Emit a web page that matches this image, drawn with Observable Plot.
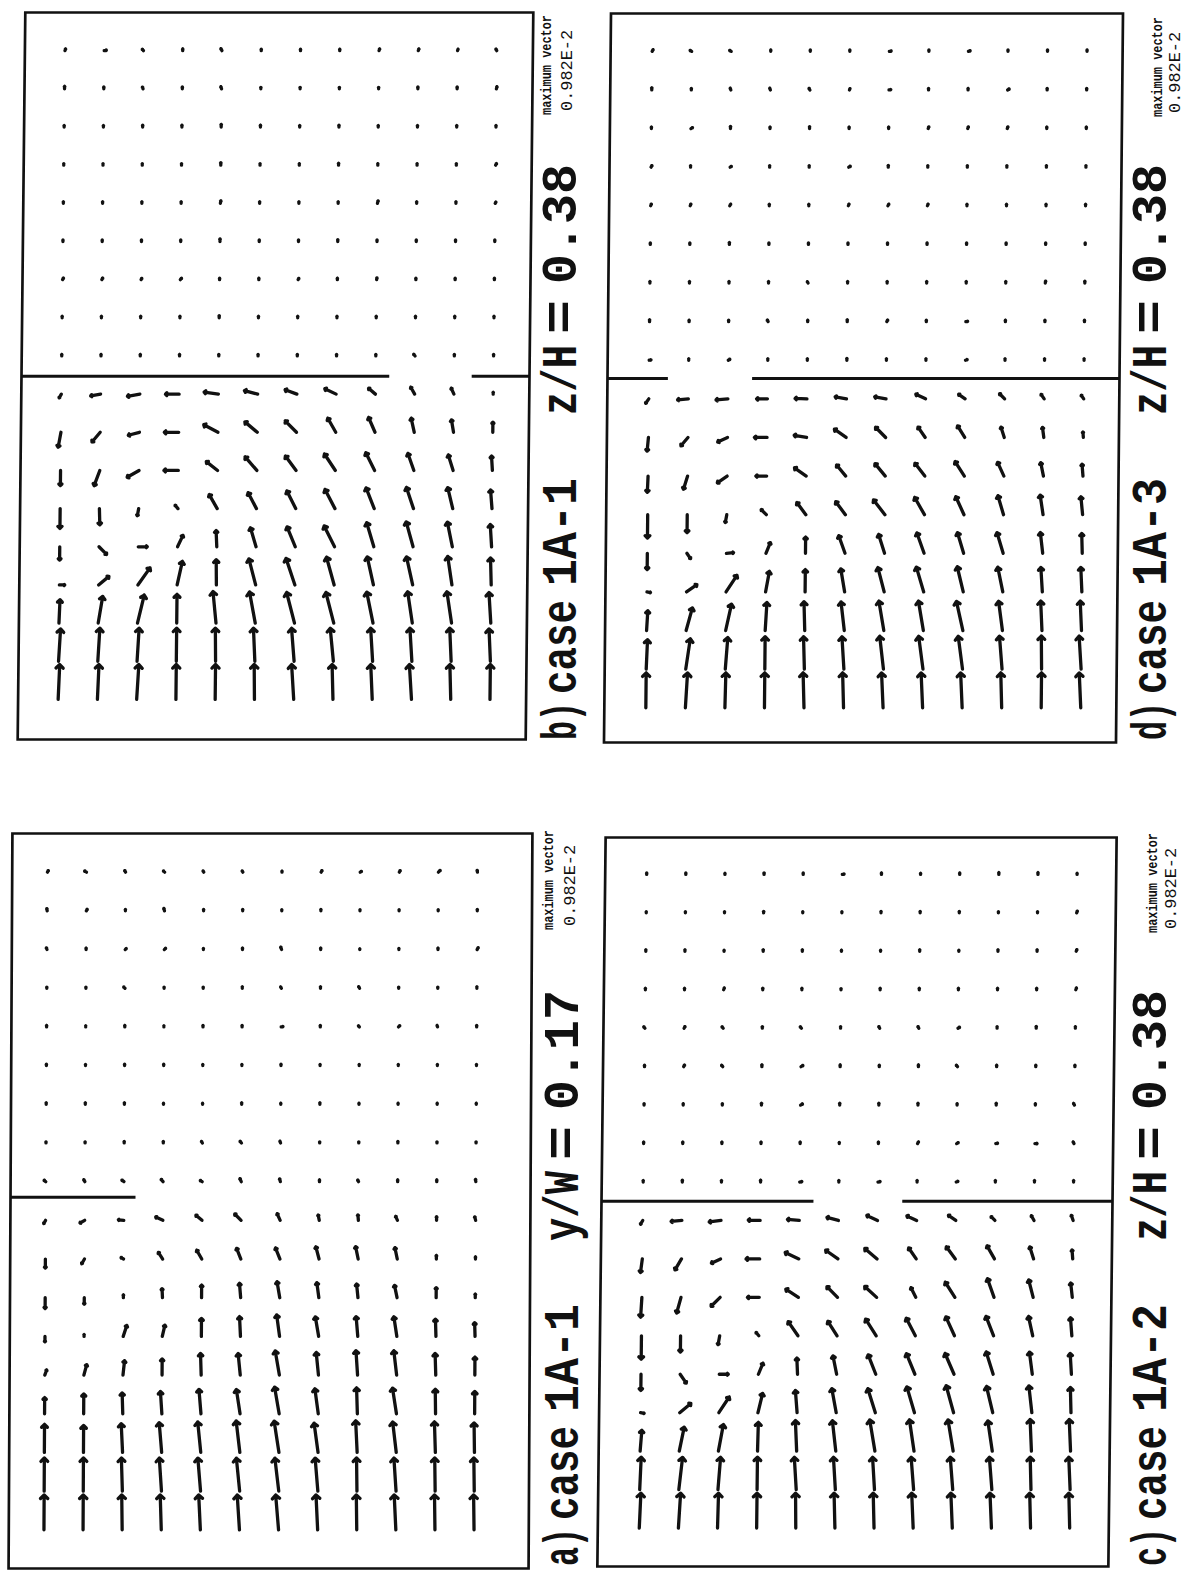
<!DOCTYPE html>
<html><head><meta charset="utf-8">
<script src="https://cdn.jsdelivr.net/npm/d3@7"></script>
<script src="https://cdn.jsdelivr.net/npm/@observablehq/plot@0.6"></script>
<style>
body{margin:0;background:#fff;}
#page{position:relative;width:1193px;height:1579px;overflow:hidden;background:#fff;}
#page svg{position:absolute;}
</style></head><body><div id="page"></div>
<script>
// ---- vector data: angle (deg, 0 = up the page, clockwise +) and relative magnitude (1 = maximum vector) ----
// rows 0..17 from top of each panel, 12 columns
const aAng = [
[30,-60,-30,-45,-30,-30,0,30,60,30,45,-10],
[-10,30,0,-15,0,0,0,0,0,0,0,0],
[-20,0,45,45,0,0,-20,0,0,0,0,30],
[0,0,-45,0,0,0,-30,0,-30,0,0,0],
[0,0,0,0,0,0,80,0,-40,45,-20,0],
[0,0,0,0,0,0,0,0,0,0,0,0],
[0,0,0,0,0,0,0,0,0,0,0,0],
[0,0,0,0,-30,-40,-20,0,0,0,0,0],
[-50,-30,-55,-40,-60,-25,-15,0,-30,0,0,-10],
[-150,-120,-85,-65,-50,-45,-25,-12,-5,-25,0,-15],
[180,-150,-60,-33,-30,-22,-22,-15,-12,-12,0,0],
[180,180,0,-3,0,-5,-10,-8,-6,-12,0,0],
[180,0,18,13,0,-3,-8,-10,-5,-9,-2,-2],
[20,15,6,0,-2,-6,-10,-6,-4,-7,-2,0],
[0,0,-2,-4,-5,-9,-10,-8,-2,-9,-1,0],
[0,0,-3,-5,-6,-7,-9,-8,-3,-7,-2,-1],
[0,0,-2,-4,-5,-6,-7,-5,-1,-4,-1,-1],
[0,0,-1,-2,-3,-4,-5,-3,-1,-3,-1,-1]];
const aLen = [
[0.05,0.06,0.05,0.05,0.04,0.04,0.03,0.05,0.04,0.05,0.07,0.05],
[0.06,0.05,0.04,0.07,0.04,0.04,0.03,0.04,0.03,0.03,0.03,0.04],
[0.05,0.04,0.04,0.05,0.03,0.04,0.07,0.04,0.02,0.03,0.04,0.06],
[0.03,0.03,0.05,0.03,0.03,0.04,0.04,0.04,0.05,0.03,0.03,0.04],
[0.04,0.03,0.04,0.03,0.04,0.04,0.05,0.04,0.04,0.05,0.04,0.04],
[0.04,0.03,0.04,0.04,0.03,0.03,0.04,0.03,0.03,0.03,0.03,0.03],
[0.04,0.04,0.04,0.03,0.03,0.04,0.03,0.04,0.03,0.03,0.03,0.03],
[0.03,0.03,0.04,0.04,0.05,0.06,0.05,0.03,0.03,0.04,0.03,0.03],
[0.06,0.06,0.07,0.08,0.06,0.09,0.08,0.05,0.05,0.05,0.05,0.06],
[0.1,0.15,0.15,0.22,0.22,0.25,0.2,0.15,0.15,0.12,0.1,0.1],
[0.25,0.15,0.08,0.22,0.28,0.32,0.33,0.35,0.35,0.32,0.1,0.06],
[0.3,0.18,0.08,0.25,0.35,0.4,0.45,0.42,0.38,0.35,0.28,0.1],
[0.15,0.05,0.32,0.32,0.5,0.55,0.6,0.55,0.55,0.55,0.48,0.38],
[0.15,0.3,0.4,0.45,0.6,0.6,0.68,0.63,0.68,0.68,0.6,0.5],
[0.45,0.55,0.58,0.62,0.68,0.68,0.75,0.7,0.72,0.72,0.68,0.62],
[0.78,0.75,0.8,0.83,0.85,0.88,0.88,0.82,0.88,0.85,0.85,0.82],
[0.92,0.92,0.92,0.92,0.92,0.92,0.92,0.92,0.92,0.92,0.92,0.92],
[0.97,0.97,0.97,0.97,0.97,0.97,0.97,0.97,0.97,0.97,0.97,0.97]];

const bAng = [
[20,80,-40,0,-30,0,0,0,20,20,20,-30],
[0,0,-20,0,-20,0,0,0,0,0,0,15],
[0,0,0,0,0,0,0,0,0,0,0,0],
[0,0,0,0,0,0,0,0,0,0,0,30],
[0,0,0,0,10,0,0,0,15,0,0,30],
[0,0,0,0,0,0,0,0,0,0,0,0],
[30,30,30,40,0,0,30,0,10,0,0,0],
[0,0,0,0,0,0,0,0,0,0,0,0],
[0,0,0,0,0,0,0,0,0,-40,0,0],
[-150,-100,-100,-90,-82,-75,-70,-65,-50,-30,-25,0],
[190,-140,-105,-90,-62,-50,-45,-30,-24,-13,-10,0],
[180,-160,-120,-90,-52,-41,-37,-34,-27,-20,-18,-4],
[180,178,190,-40,-30,-28,-27,-28,-22,-19,-14,-5],
[180,135,90,25,-3,-17,-23,-27,-17,-16,-12,-4],
[90,50,35,12,-1,-15,-19,-16,-13,-13,-9,-2],
[2,9,13,0,-6,-11,-15,-15,-12,-9,-9,-4],
[3,3,3,0,-1,-3,-5,-6,-4,-4,-3,-3],
[2,2,3,0,0,-1,-4,-2,-3,-4,-2,0]];
const bLen = [
[0.05,0.06,0.05,0.05,0.06,0.04,0.04,0.04,0.05,0.05,0.04,0.05],
[0.07,0.05,0.05,0.05,0.06,0.04,0.04,0.04,0.04,0.05,0.05,0.06],
[0.04,0.04,0.05,0.05,0.07,0.05,0.04,0.05,0.04,0.04,0.04,0.04],
[0.04,0.04,0.04,0.04,0.07,0.04,0.04,0.05,0.04,0.04,0.04,0.05],
[0.04,0.04,0.04,0.04,0.07,0.04,0.04,0.04,0.07,0.04,0.04,0.04],
[0.04,0.04,0.04,0.04,0.07,0.04,0.04,0.05,0.04,0.04,0.04,0.04],
[0.05,0.05,0.04,0.05,0.04,0.04,0.04,0.04,0.05,0.04,0.04,0.04],
[0.04,0.04,0.04,0.04,0.06,0.04,0.04,0.04,0.04,0.04,0.04,0.04],
[0.04,0.04,0.04,0.04,0.04,0.04,0.04,0.04,0.04,0.06,0.04,0.04],
[0.12,0.28,0.35,0.38,0.4,0.38,0.35,0.35,0.25,0.22,0.18,0.05],
[0.42,0.35,0.32,0.4,0.45,0.45,0.45,0.45,0.45,0.4,0.35,0.28],
[0.42,0.45,0.38,0.4,0.4,0.5,0.5,0.55,0.55,0.5,0.45,0.4],
[0.55,0.45,0.2,0.12,0.45,0.5,0.55,0.6,0.62,0.62,0.6,0.52],
[0.37,0.3,0.25,0.35,0.45,0.55,0.6,0.65,0.7,0.72,0.7,0.62],
[0.15,0.37,0.58,0.67,0.7,0.75,0.78,0.8,0.8,0.8,0.8,0.75],
[0.65,0.75,0.8,0.8,0.88,0.88,0.88,0.88,0.88,0.88,0.88,0.85],
[0.9,0.92,0.92,0.92,0.92,0.92,0.92,0.92,0.92,0.92,0.92,0.9],
[0.97,0.97,0.97,0.97,0.97,0.97,0.97,0.97,0.97,0.97,0.97,0.97]];

const cAng = [
[0,0,0,0,0,80,0,0,0,0,0,0],
[0,0,0,0,0,0,0,0,0,0,0,20],
[0,0,0,0,0,0,0,0,0,0,0,20],
[0,0,20,0,0,0,0,0,0,0,0,20],
[-40,30,-40,0,-40,0,-30,-30,60,0,0,0],
[0,30,-40,0,60,0,0,0,-40,0,0,0],
[0,0,0,0,60,0,0,0,0,0,0,-30],
[0,0,0,0,0,0,0,30,60,80,90,-30],
[0,0,0,0,80,0,80,0,70,0,0,0],
[-150,-95,-97,-88,-85,-75,-65,-65,-55,-45,-30,-20],
[187,-150,-115,-90,-65,-55,-50,-35,-37,-30,-18,-5],
[183,-165,-135,-90,-57,-45,-48,-27,-33,-20,-15,-7],
[180,180,190,-40,-35,-33,-33,-28,-25,-22,-13,-5],
[180,145,90,22,-3,-12,-22,-23,-24,-18,-8,-4],
[100,50,33,13,-5,-11,-18,-17,-16,-14,-7,-2],
[4,11,10,1,-3,-7,-10,-9,-10,-9,-3,-3],
[2,6,4,0,-4,-4,-4,-5,-5,-5,-2,-3],
[2,3,1,0,-1,-2,-2,-3,-3,-3,-2,-2]];
const cLen = [
[0.04,0.04,0.03,0.04,0.04,0.05,0.04,0.03,0.04,0.05,0.05,0.03],
[0.03,0.03,0.03,0.04,0.03,0.03,0.04,0.04,0.04,0.03,0.03,0.05],
[0.04,0.04,0.03,0.04,0.04,0.03,0.03,0.04,0.03,0.04,0.04,0.05],
[0.04,0.04,0.05,0.04,0.04,0.03,0.04,0.04,0.04,0.04,0.04,0.05],
[0.05,0.05,0.05,0.04,0.05,0.04,0.05,0.05,0.05,0.04,0.05,0.04],
[0.04,0.05,0.05,0.05,0.06,0.05,0.04,0.05,0.05,0.04,0.04,0.04],
[0.04,0.04,0.04,0.05,0.06,0.05,0.05,0.05,0.04,0.05,0.04,0.05],
[0.04,0.04,0.04,0.04,0.04,0.03,0.04,0.05,0.05,0.05,0.06,0.05],
[0.04,0.05,0.04,0.05,0.06,0.04,0.06,0.04,0.05,0.04,0.04,0.04],
[0.12,0.3,0.33,0.33,0.33,0.33,0.33,0.3,0.25,0.15,0.15,0.15],
[0.38,0.35,0.28,0.38,0.42,0.42,0.45,0.37,0.42,0.42,0.35,0.25],
[0.55,0.45,0.35,0.33,0.42,0.42,0.45,0.3,0.5,0.55,0.5,0.4],
[0.65,0.45,0.25,0.12,0.48,0.48,0.55,0.55,0.58,0.58,0.55,0.5],
[0.45,0.3,0.25,0.33,0.45,0.52,0.58,0.62,0.63,0.65,0.62,0.58],
[0.1,0.4,0.52,0.55,0.62,0.68,0.7,0.75,0.78,0.75,0.75,0.7],
[0.58,0.68,0.75,0.8,0.85,0.85,0.88,0.88,0.88,0.85,0.88,0.88],
[0.9,0.9,0.9,0.9,0.9,0.9,0.9,0.9,0.9,0.9,0.9,0.9],
[0.97,0.97,0.97,0.97,0.97,0.97,0.97,0.97,0.97,0.97,0.97,0.97]];

const dAng = [
[30,-60,-60,0,0,0,80,0,70,0,0,0],
[0,0,-20,-20,-30,20,80,0,0,60,0,0],
[0,60,0,0,0,0,0,20,20,20,0,0],
[30,0,60,0,0,60,0,0,0,0,0,0],
[20,20,30,0,0,20,30,20,0,0,0,0],
[0,0,0,0,0,0,0,0,0,0,0,0],
[0,0,0,0,-30,0,0,0,0,0,10,0],
[0,0,0,-30,0,0,30,0,80,0,0,0],
[80,0,60,0,0,0,0,0,70,0,0,0],
[-145,-95,-95,-90,-88,-80,-80,-65,-55,-45,-35,-35],
[185,-140,-115,-90,-80,-55,-45,-35,-32,-18,-8,-5],
[182,-163,-125,-90,-55,-40,-40,-38,-33,-25,-12,-5],
[180,180,190,-45,-37,-37,-38,-30,-25,-17,-9,-6],
[180,145,85,22,0,-20,-18,-20,-17,-17,-7,-2],
[100,55,33,10,0,-10,-15,-17,-14,-12,-4,-3],
[3,15,12,3,-2,-7,-10,-10,-13,-8,-3,-3],
[2,8,4,0,-2,-4,-7,-8,-8,-5,-1,-4],
[0,3,1,0,-2,-2,-3,-3,-3,-2,0,-3]];
const dLen = [
[0.05,0.05,0.05,0.04,0.04,0.04,0.05,0.04,0.05,0.04,0.04,0.04],
[0.06,0.04,0.05,0.05,0.05,0.04,0.05,0.04,0.04,0.05,0.04,0.04],
[0.04,0.05,0.06,0.04,0.05,0.04,0.04,0.05,0.05,0.05,0.04,0.04],
[0.05,0.04,0.04,0.04,0.04,0.05,0.05,0.04,0.04,0.04,0.04,0.04],
[0.05,0.05,0.05,0.04,0.04,0.05,0.05,0.05,0.04,0.04,0.04,0.04],
[0.04,0.04,0.05,0.04,0.04,0.04,0.04,0.04,0.04,0.04,0.04,0.04],
[0.04,0.04,0.04,0.04,0.04,0.04,0.04,0.04,0.04,0.04,0.05,0.05],
[0.05,0.04,0.04,0.05,0.04,0.05,0.05,0.04,0.05,0.04,0.04,0.04],
[0.05,0.04,0.05,0.04,0.04,0.05,0.04,0.04,0.05,0.04,0.04,0.04],
[0.15,0.3,0.33,0.3,0.33,0.32,0.32,0.3,0.22,0.2,0.15,0.12],
[0.38,0.3,0.3,0.35,0.35,0.4,0.4,0.35,0.38,0.3,0.28,0.15],
[0.45,0.38,0.33,0.3,0.4,0.4,0.45,0.45,0.48,0.42,0.38,0.33],
[0.65,0.5,0.22,0.2,0.42,0.45,0.52,0.55,0.55,0.55,0.55,0.5],
[0.45,0.18,0.2,0.32,0.45,0.52,0.55,0.6,0.6,0.6,0.58,0.55],
[0.1,0.35,0.55,0.58,0.62,0.65,0.7,0.72,0.72,0.7,0.68,0.68],
[0.55,0.65,0.75,0.78,0.8,0.8,0.83,0.83,0.83,0.82,0.82,0.82],
[0.82,0.85,0.88,0.9,0.9,0.9,0.92,0.92,0.92,0.92,0.92,0.92],
[0.97,0.97,0.97,0.97,0.97,0.97,0.97,0.97,0.97,0.97,0.97,0.97]];

// partition walls (grid units: y = row position, x1..x2 = column extent)
const aWalls = [{y:8.4, x1:-0.9, x2:2.31}];
const bWalls = [{y:8.53, x1:-1.02, x2:8.36}, {y:8.53, x1:10.46, x2:11.92}];
const cWalls = [{y:8.5, x1:-1.06, x2:4.37}, {y:8.5, x1:6.64, x2:12.0}];
const dWalls = [{y:8.47, x1:-1.05, x2:0.49}, {y:8.47, x1:2.62, x2:11.9}];

const panelNames = ["a","b","c","d"];
const caseLabels = ["case 1A-1","case 1A-1","case 1A-2","case 1A-3"];
const planeLabels = ["y/W = 0.17","z/H = 0.38","z/H = 0.38","z/H = 0.38"];
const maxVectorLabel = "0.982E-2";

// ---- layout ----
const layout = {
  a:{left:10, top:833, width:520, height:735, x:[-0.9,12.4], y:[-1,18], skew:-0.3},
  b:{left:21, top:12, width:508, height:727, x:[-1.02,11.92], y:[-1,18.05], skew:-0.6},
  c:{left:601, top:837, width:511, height:729, x:[-1.06,12.0], y:[-0.96,18.0], skew:-0.65},
  d:{left:607, top:13, width:512, height:729, x:[-1.05,11.9], y:[-0.98,17.9], skew:-0.55}
};
const sources = {a:[aAng,aLen,aWalls], b:[bAng,bLen,bWalls], c:[cAng,cLen,cWalls], d:[dAng,dLen,dWalls]};
const page = document.getElementById("page");
const M = 4;
for (const p of panelNames) {
  const [ang, len, walls] = sources[p];
  const L = layout[p];
  const data = [];
  for (let j = 0; j < ang.length; ++j) for (let i = 0; i < ang[j].length; ++i)
    data.push({col:i, row:j, angle:ang[j][i], mag:len[j][i]});
  const chart = Plot.plot({
    width: L.width + 2*M, height: L.height + 2*M,
    marginLeft:M, marginRight:M, marginTop:M, marginBottom:M,
    x:{domain:L.x, axis:null},
    y:{domain:L.y, reverse:true, axis:null},
    length:{domain:[0,1], range:[0,36]},
    marks:[
      Plot.frame({stroke:"#111", strokeWidth:2.7}),
      Plot.ruleY(walls, {y:"y", x1:"x1", x2:"x2", stroke:"#111", strokeWidth:3}),
      Plot.vector(data, {x:"col", y:"row", rotate:"angle", length:"mag", anchor:"start", r:1.8,
        stroke:"#111", strokeWidth:3.3, strokeLinecap:"round", strokeLinejoin:"round"})
    ]
  });
  chart.style.left = (L.left - M) + "px";
  chart.style.top = (L.top - M) + "px";
  chart.style.transform = `skewX(${L.skew}deg)`;
  chart.style.background = "transparent";
  page.appendChild(chart);
}

// ---- rotated labels ----
const labelPos = {
  a:{base:578, bottom:1566, small1:553, small2:575, sTop:830},
  b:{base:576, bottom:740, small1:551, small2:572, sTop:15},
  c:{base:1166, bottom:1566, small1:1157, small2:1176, sTop:833},
  d:{base:1166, bottom:740, small1:1162, small2:1180, sTop:17}
};
const svg = d3.select(page).append("svg").attr("width",1193).attr("height",1579)
  .style("left","0px").style("top","0px");
const ADV = 0.6; // monospace advance in em
function seg(x, y0, y1, text, size, opts={}) {
  const natural = text.length * ADV * size;
  const sx = (y0 - y1) / natural;
  svg.append("text")
    .attr("transform", `translate(${x},${y0}) rotate(-90) scale(${sx.toFixed(3)},1)`)
    .attr("font-family", "'Liberation Mono', 'DejaVu Sans Mono', monospace")
    .attr("font-size", size)
    .attr("font-weight", opts.weight || "bold")
    .attr("fill", "#111")
    .text(text);
}
panelNames.forEach((p, k) => {
  const P = labelPos[p];
  const o = P.bottom; // offsets relative to the bottom of the label column
  const [casePart, idPart] = caseLabels[k].split(" ");
  const [varPart, eqPart, valPart] = planeLabels[k].split(" ");
  seg(P.base, o, o-38, p + ")", 50);
  seg(P.base, o-46, o-140, casePart, 50);
  seg(P.base, o-154, o-262, idPart, 50);
  seg(P.base, o-325, o-395, varPart, 50);
  seg(P.base, o-406, o-440, eqPart, 50);
  seg(P.base, o-456, o-576, valPart, 50);
  seg(P.small1, P.sTop + 100, P.sTop, "maximum vector", 15, {weight:"bold"});
  seg(P.small2, P.sTop + 96, P.sTop + 15, maxVectorLabel, 17, {weight:"normal"});
});
</script></body></html>
